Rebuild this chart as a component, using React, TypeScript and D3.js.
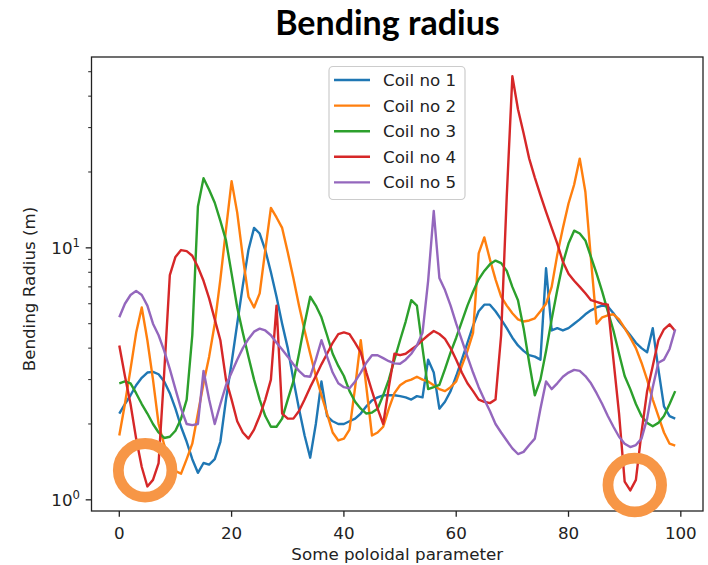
import * as d3 from 'd3';

// values, one per poloidal index 0..99
const coil1 = [2.2, 2.4, 2.6, 2.85, 3.05, 3.2, 3.22, 3.15, 2.95, 2.65,
  2.3, 1.95, 1.7, 1.45, 1.28, 1.4, 1.38, 1.45, 1.7, 2.5,
  3.5, 5.0, 7.1, 9.8, 12.0, 11.4, 9.8, 8.0, 6.4, 5.0,
  4.0, 3.0, 2.3, 1.8, 1.47, 2.0, 2.95, 2.15, 2.05, 2.0,
  2.0, 2.05, 2.1, 2.2, 2.35, 2.48, 2.55, 2.6, 2.6, 2.6,
  2.58, 2.55, 2.5, 2.58, 2.55, 3.6, 3.2, 2.3, 2.45, 2.7,
  3.1, 3.6, 4.2, 4.9, 5.6, 5.95, 5.95, 5.6, 5.2, 4.8,
  4.4, 4.1, 3.9, 3.75, 3.7, 3.6, 8.3, 4.7, 4.8, 4.7,
  4.8, 5.0, 5.2, 5.45, 5.65, 5.8, 5.9, 5.85, 5.5, 5.1,
  4.8, 4.5, 4.2, 4.0, 3.85, 4.8, 3.3, 2.35, 2.15, 2.1];
const coil2 = [1.8, 2.4, 3.3, 4.6, 5.8, 4.3, 3.0, 2.0, 1.65, 1.45,
  1.3, 1.27, 1.45, 1.67, 2.2, 2.9, 3.7, 5.0, 7.5, 11.8,
  18.4, 13.8, 9.2, 6.4, 5.8, 6.6, 9.8, 14.4, 13.2, 12.0,
  9.6, 7.6, 5.9, 4.7, 3.8, 3.1, 2.6, 2.2, 1.85, 1.72,
  1.75, 1.9, 2.8, 4.3, 2.8, 1.8, 1.85, 1.95, 2.3, 2.65,
  2.85, 2.95, 3.0, 3.08, 3.0, 2.95, 2.85, 2.75, 2.7, 2.8,
  2.95, 3.4, 3.9, 4.6, 9.5, 11.0, 9.0, 7.5, 6.4, 5.9,
  5.5, 5.2, 5.1, 5.15, 5.25, 5.6, 6.0, 7.0, 9.4, 12.0,
  15.0, 17.8, 22.6, 16.7, 9.0, 5.0, 5.3, 5.4, 5.45, 5.2,
  4.8, 4.4, 4.0, 3.5, 3.0, 2.5, 2.15, 1.85, 1.67, 1.64];
const coil3 = [2.9, 2.95, 2.9, 2.65, 2.4, 2.2, 2.0, 1.85, 1.76, 1.78,
  1.88, 2.1, 2.5, 4.5, 14.6, 18.9, 17.0, 15.1, 12.8, 10.7,
  7.9, 5.8, 4.6, 3.7, 3.0, 2.5, 2.15, 1.95, 1.95, 2.1,
  2.5, 2.95, 3.8, 5.0, 6.4, 5.9, 5.3, 4.5, 3.8, 3.4,
  3.1, 2.7, 2.45, 2.3, 2.2, 2.22, 2.3, 2.6, 3.0, 3.6,
  4.3, 5.1, 6.2, 5.9, 4.0, 2.75, 2.8, 2.86, 3.3, 3.85,
  4.4, 5.1, 5.9, 6.7, 7.5, 8.1, 8.6, 8.9, 8.7, 8.1,
  7.0, 6.2, 4.8, 3.5, 2.6, 3.0, 3.9, 5.2, 6.8, 8.7,
  10.4, 11.7, 11.4, 10.7, 9.2, 7.9, 6.7, 5.6, 4.7, 3.8,
  3.1, 2.75, 2.4, 2.15, 2.02, 1.96, 2.02, 2.15, 2.4, 2.7];
const coil4 = [4.1, 3.1, 2.4, 1.75, 1.35, 1.13, 1.2, 1.4, 3.2, 7.8,
  9.2, 9.8, 9.7, 9.3, 8.4, 7.4, 6.3, 5.2, 4.3, 3.0,
  2.5, 2.05, 1.85, 1.75, 1.9, 2.15, 2.5, 3.0, 5.9, 2.2,
  2.1, 2.1, 2.25, 2.5, 2.8, 3.1, 3.45, 3.8, 4.2, 4.55,
  4.62, 4.55, 4.2, 3.85, 3.2, 2.7, 2.3, 2.0, 2.8, 3.8,
  3.75, 3.8, 3.95, 4.1, 4.3, 4.5, 4.68, 4.55, 4.35, 4.0,
  3.6, 3.2, 2.9, 2.7, 2.5, 2.45, 2.42, 2.5, 4.5, 16.0,
  48.0, 35.5, 28.5, 22.6, 19.0, 16.2, 13.9, 12.0, 10.4, 8.8,
  7.9, 7.4, 7.0, 6.6, 6.2, 6.1, 6.0, 5.95, 3.6, 2.2,
  1.18, 1.09, 1.2, 1.85, 2.7, 3.4, 4.3, 4.75, 4.97, 4.68];
const coil5 = [5.3, 6.0, 6.5, 6.75, 6.5, 5.9, 5.0, 4.5, 3.9, 3.3,
  2.75, 2.3, 2.0, 1.98, 2.0, 3.25, 2.5, 2.0, 2.4, 2.85,
  3.2, 3.6, 4.0, 4.35, 4.65, 4.78, 4.7, 4.5, 4.2, 3.95,
  3.7, 3.45, 3.25, 3.1, 3.08, 3.6, 4.3, 3.7, 3.2, 2.9,
  2.8, 2.77, 2.95, 3.2, 3.5, 3.75, 3.75, 3.65, 3.55, 3.48,
  3.47, 3.6, 3.8, 4.1, 4.6, 7.4, 14.0, 7.6, 6.8, 5.9,
  5.0, 4.3, 3.7, 3.2, 2.8, 2.5, 2.25, 2.0, 1.85, 1.72,
  1.6, 1.52, 1.55, 1.65, 1.75, 2.3, 2.95, 2.75, 2.9, 3.08,
  3.2, 3.28, 3.25, 3.1, 2.9, 2.65, 2.4, 2.15, 1.95, 1.78,
  1.67, 1.62, 1.65, 1.75, 2.1, 2.8, 3.5, 3.6, 3.97, 4.75];

const seriesNames = ['Coil no 1', 'Coil no 2', 'Coil no 3', 'Coil no 4', 'Coil no 5'];
const seriesColors = ['#1f77b4', '#ff7f0e', '#2ca02c', '#d62728', '#9467bd'];
const xTicks = [0, 20, 40, 60, 80, 100];
const yMajor = [1, 10];
// orange highlight rings drawn over the slide, in data coordinates
const highlightX = [4.6, 91.8];
const highlightY = [1.31, 1.145];

const FONT = 'DejaVu Sans, sans-serif';
const FS = 16.7;
const INK = '#222';

export default function App() {
  const series = [coil1, coil2, coil3, coil4, coil5];
  const left = 91.5, right = 703, top = 57, bottom = 511;

  const x = d3.scaleLinear().domain([-4.95, 103.95]).range([left, right]);
  const y = d3.scaleLog().domain([0.903, 57.2]).range([bottom, top]);
  const line = d3.line<number>().x((_, i) => x(i)).y(d => y(d));

  const yTicks = y.ticks();

  // legend box
  const lgX = 329, lgY = 66.5, lgW = 136, rowH = 25.6;

  return (
    <svg width={708} height={565} style={{ position: 'absolute', left: 0, top: 0, background: '#fff' }}>
      <text x={387.5} y={35} textAnchor='middle' fontFamily='Lato, sans-serif' fontWeight='bold' fontSize={34} fill='#000'>
        Bending radius
      </text>

      {series.map((s, k) => (
        <path key={k} d={line(s) ?? ''} fill='none' stroke={seriesColors[k]} strokeWidth={2.4} strokeLinejoin='round' />
      ))}

      <rect x={left} y={top} width={right - left} height={bottom - top} fill='none' stroke={INK} strokeWidth={1.3} />

      {xTicks.map(t => (
        <g key={t}>
          <line x1={x(t)} x2={x(t)} y1={bottom} y2={bottom + 5.8} stroke={INK} strokeWidth={1.3} />
          <text x={x(t)} y={539} textAnchor='middle' fontFamily={FONT} fontSize={FS} fill={INK}>{t}</text>
        </g>
      ))}
      <text x={(left + right) / 2} y={560} textAnchor='middle' fontFamily={FONT} fontSize={FS} fill={INK}>
        Some poloidal parameter
      </text>

      {yTicks.map(t => {
        const major = yMajor.includes(t);
        return (
          <line key={t} x1={left} x2={left - (major ? 5.8 : 3.3)} y1={y(t)} y2={y(t)} stroke={INK} strokeWidth={major ? 1.3 : 1} />
        );
      })}
      {yMajor.map(t => (
        <text key={t} x={80} y={y(t) + 6} textAnchor='end' fontFamily={FONT} fontSize={FS} fill={INK}>
          10<tspan dy={-7} fontSize={11.7}>{Math.round(Math.log10(t))}</tspan>
        </text>
      ))}
      <text transform={`translate(35, 289) rotate(-90)`} textAnchor='middle' fontFamily={FONT} fontSize={FS} fill={INK}>
        Bending Radius (m)
      </text>

      <rect x={lgX} y={lgY} width={lgW} height={rowH * 5 + 5} rx={4} fill='#fff' fillOpacity={0.8} stroke='#ccc' strokeWidth={1.2} />
      {seriesNames.map((name, k) => {
        const cy = 80 + k * rowH;
        return (
          <g key={name}>
            <line x1={334} x2={370} y1={cy} y2={cy} stroke={seriesColors[k]} strokeWidth={2.4} />
            <text x={383} y={cy + 6} fontFamily={FONT} fontSize={FS} fill={INK}>{name}</text>
          </g>
        );
      })}

      {highlightX.map((hx, k) => (
        <circle key={k} cx={x(hx)} cy={y(highlightY[k])} r={26.8} fill='none' stroke='#f79646' strokeWidth={10.8} />
      ))}
    </svg>
  );
}
